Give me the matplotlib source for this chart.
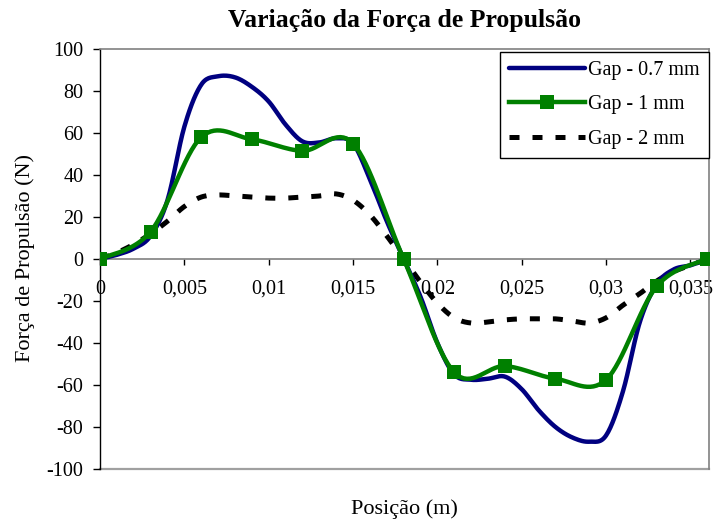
import numpy as np
import matplotlib.pyplot as plt
from matplotlib.ticker import FixedLocator, FuncFormatter

plt.rcParams['font.family'] = ['Liberation Serif', 'DejaVu Serif']
plt.rcParams['axes.unicode_minus'] = False

# posições (m): curvas de 0.7 e 2 mm a cada 1 mm, curva de 1 mm a cada 3 mm
pos_fino = np.arange(37) * 0.001
pos_grosso = np.arange(13) * 0.003

gap_07 = [0, 2, 5, 11, 28, 63, 83, 87, 86.5, 82, 75, 64, 56, 55.5, 57.5, 55, 38, 18, 0,
          -18, -40, -55, -57.5, -57, -56, -62, -72, -80, -85, -87, -84, -63, -30, -12, -5, -3, 0]
gap_2 = [0, 3, 7, 12, 18, 25, 29.5, 30.5, 30, 29.5, 29, 29, 29.5, 30, 31, 28, 21, 11, 0,
         -11, -21, -28, -30.5, -30, -29, -28.5, -28.5, -28.5, -29.5, -30.5, -28, -22, -16.5, -10.5, -6, -3, 0]
gap_1 = [0, 13, 58, 57, 51.5, 55, 0, -54, -51, -57, -57.5, -13, 0]

rotulos = ['Gap - 0.7 mm', 'Gap - 1 mm', 'Gap - 2 mm']

N = 16  # pontos por segmento da curva suavizada


def suaviza(x, y, n=N):
    # curva de Bezier cubica por segmento (tipo Catmull-Rom), como a linha suavizada do Excel
    x = np.asarray(x, float)
    y = np.asarray(y, float)
    px = np.concatenate([[x[0]], x, [x[-1]]])
    py = np.concatenate([[y[0]], y, [y[-1]]])
    t = np.linspace(0, 1, n + 1)[1:]
    xs, ys = [x[0]], [y[0]]
    for i in range(len(x) - 1):
        c1x = x[i] + (px[i + 2] - px[i]) / 6
        c1y = y[i] + (py[i + 2] - py[i]) / 6
        c2x = x[i + 1] - (px[i + 3] - px[i + 1]) / 6
        c2y = y[i + 1] - (py[i + 3] - py[i + 1]) / 6
        a, b, c, d = (1 - t) ** 3, 3 * (1 - t) ** 2 * t, 3 * (1 - t) * t ** 2, t ** 3
        xs.extend(a * x[i] + b * c1x + c * c2x + d * x[i + 1])
        ys.extend(a * y[i] + b * c1y + c * c2y + d * y[i + 1])
    return np.array(xs), np.array(ys)


fig = plt.figure(figsize=(7.18, 5.22), dpi=100)
W, H = 718, 522
ax = fig.add_axes([100 / W, (H - 469) / H, 609 / W, 420 / H])

x, y = suaviza(pos_fino, gap_07)
ax.plot(x, y, color='#000080', lw=3.2, solid_capstyle='round', label=rotulos[0], zorder=3)
x, y = suaviza(pos_grosso, gap_1)
ax.plot(x, y, color='#008000', lw=3.2, marker='s', markevery=N, markersize=9.5,
        markeredgewidth=0, label=rotulos[1], zorder=4)
x, y = suaviza(pos_fino, gap_2)
ax.plot(x, y, color='black', lw=3.6, dashes=(2.0, 2.6), label=rotulos[2], zorder=2)

ax.set_xlim(0, 0.0361)
ax.set_ylim(-100, 100)

ax.yaxis.set_major_locator(FixedLocator(np.arange(-100, 101, 20)))
ax.xaxis.set_major_locator(FixedLocator(np.arange(8) * 0.005))
ax.xaxis.set_major_formatter(FuncFormatter(lambda v, p: ('%g' % round(v, 4)).replace('.', ',')))

for lado in ['top', 'right']:
    ax.spines[lado].set_color('#808080')
    ax.spines[lado].set_linewidth(1.2)
ax.spines['bottom'].set_position(('data', 0))
ax.spines['bottom'].set_color('#808080')
ax.spines['bottom'].set_linewidth(1.2)
ax.spines['left'].set_color('black')
ax.spines['left'].set_linewidth(1.0)
ax.axhline(-100, color='#a0a0a0', lw=1.6, zorder=1, clip_on=False)

ax.tick_params(axis='y', direction='out', length=5, width=1, color='black', pad=7, labelsize=14.5)
ax.tick_params(axis='x', direction='out', length=4, width=1, color='black', pad=11, labelsize=14.5)

fig.text(405 / W, 1 - 20 / H, 'Variação da Força de Propulsão', ha='center', va='center',
         fontsize=18.5, fontweight='bold')
fig.text(404 / W, 1 - 509 / H, 'Posição (m)', ha='center', va='center', fontsize=16)
fig.text(25 / W, 1 - 258 / H, 'Força de Propulsão (N)', ha='center', va='center',
         rotation=90, fontsize=16)

leg = ax.legend(loc='upper right', bbox_to_anchor=(709 / W, 1 - 52 / H), bbox_transform=fig.transFigure,
                borderaxespad=0, fancybox=False, edgecolor='black', framealpha=1, fontsize=14.5,
                handlelength=3.8, handletextpad=0.15, labelspacing=0.75, borderpad=0.45)
leg.get_frame().set_linewidth(1.0)

fig.savefig('out.png', dpi=100)
